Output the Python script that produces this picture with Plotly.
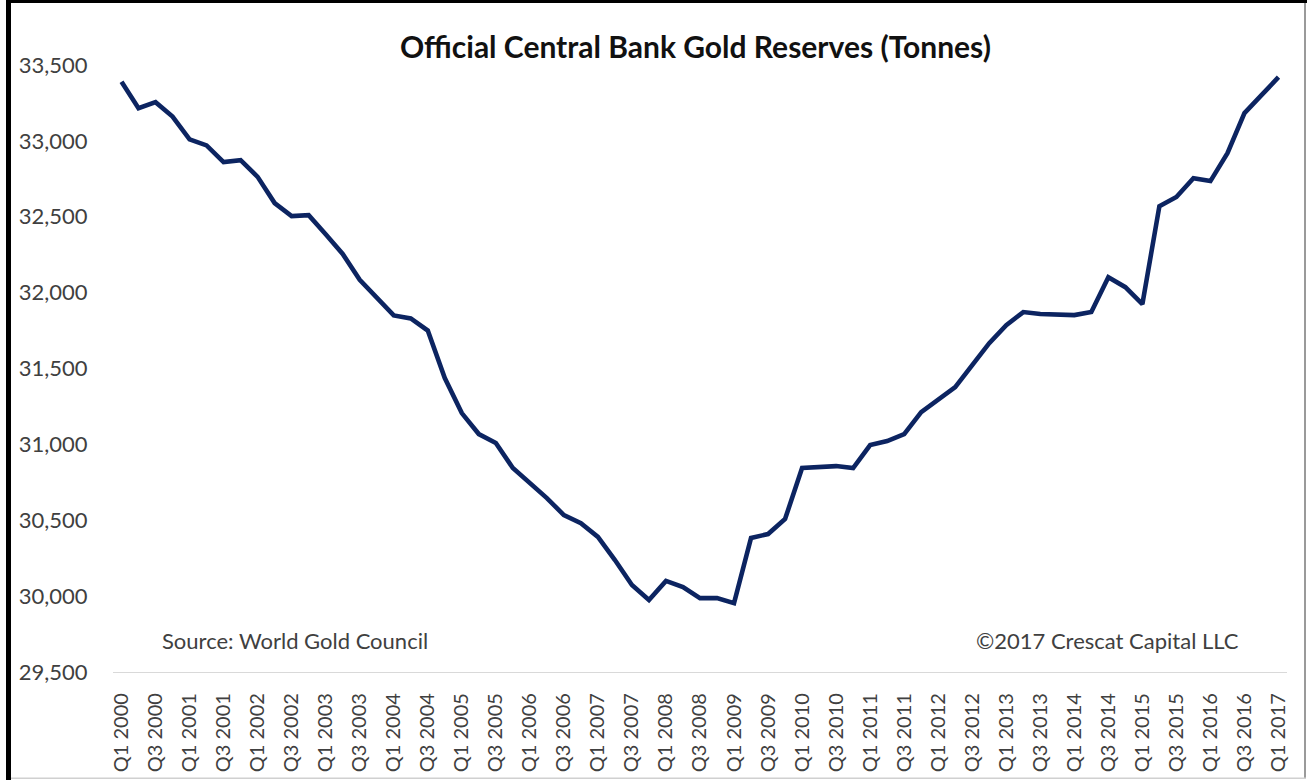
import plotly.graph_objects as go

# Quarterly official-sector gold holdings, tonnes
quarters = [f"Q{q} {y}" for y in range(2000, 2018) for q in range(1, 5)][:69]

reserves = [
    33390, 33215, 33255, 33160, 33010, 32970, 32860, 32873,
    32763, 32590, 32504, 32510, 32385, 32255, 32085, 31965,
    31850, 31830, 31750, 31437, 31206, 31068, 31009, 30844,
    30745, 30646, 30534, 30481, 30390, 30238, 30073, 29974,
    30100, 30060, 29987, 29987, 29954, 30383, 30409, 30508,
    30844, 30847, 30857, 30844, 30995, 31022, 31068, 31213,
    31298, 31377, 31522, 31667, 31786, 31872, 31859, 31852,
    31852, 31872, 32102, 32036, 31924, 32570, 32630, 32754,
    32735, 32919, 33183, 33301, 33420,
]

tick_labels = [
    "Q1 2000", "Q3 2000", "Q1 2001", "Q3 2001", "Q1 2002", "Q3 2002",
    "Q1 2003", "Q3 2003", "Q1 2004", "Q3 2004", "Q1 2005", "Q3 2005",
    "Q1 2006", "Q3 2006", "Q1 2007", "Q3 2007", "Q1 2008", "Q3 2008",
    "Q1 2009", "Q3 2009", "Q1 2010", "Q3 2010", "Q1 2011", "Q3 2011",
    "Q1 2012", "Q3 2012", "Q1 2013", "Q3 2013", "Q1 2014", "Q3 2014",
    "Q1 2015", "Q3 2015", "Q1 2016", "Q3 2016", "Q1 2017",
]

y_ticks = [29500, 30000, 30500, 31000, 31500, 32000, 32500, 33000, 33500]

FONT = "Lato, 'Open Sans', sans-serif"
TICK_COLOR = "#404040"

W, H = 1307, 780
ML, MR, MT, MB = 113, 20, 65, 108
PW, PH = W - ML - MR, H - MT - MB


def px_x(p):
    return (p - ML) / PW


def px_y(p):
    return (H - MB - p) / PH


fig = go.Figure(
    go.Scatter(
        x=quarters,
        y=reserves,
        mode="lines",
        line=dict(color="#0c2461", width=4.6),
        hoverinfo="x+y",
    )
)

fig.update_layout(
    width=W,
    height=H,
    margin=dict(l=ML, r=MR, t=MT, b=MB, autoexpand=False),
    paper_bgcolor="white",
    plot_bgcolor="white",
    showlegend=False,
    font=dict(family=FONT, color=TICK_COLOR),
    xaxis=dict(
        type="category",
        categoryorder="array",
        categoryarray=quarters,
        range=[-0.5, len(quarters) - 0.5],
        tickmode="array",
        tickvals=tick_labels,
        ticktext=tick_labels,
        tickangle=-90,
        ticks="outside",
        ticklen=12,
        tickcolor="rgba(0,0,0,0)",
        tickfont=dict(family=FONT, size=20, color=TICK_COLOR),
        showgrid=False,
        showline=True,
        linecolor="#d9d9d9",
        linewidth=1.3,
        zeroline=False,
        automargin=False,
    ),
    yaxis=dict(
        range=[29500, 33500],
        tickmode="array",
        tickvals=y_ticks,
        ticktext=[f"{v:,}" for v in y_ticks],
        ticks="outside",
        ticklen=20,
        tickcolor="rgba(0,0,0,0)",
        tickfont=dict(family=FONT, size=22, color=TICK_COLOR),
        showgrid=False,
        showline=False,
        zeroline=False,
        automargin=False,
    ),
)

annotations = [
    dict(
        text="<b>Official Central Bank Gold Reserves (Tonnes)</b>",
        x=px_x(695), y=px_y(46),
        font=dict(family=FONT, size=30, color="#111111"),
    ),
    dict(
        text="Source: World Gold Council",
        x=px_x(294.5), y=px_y(640),
        font=dict(family=FONT, size=22, color=TICK_COLOR),
    ),
    dict(
        text="©2017 Crescat Capital LLC",
        x=px_x(1107), y=px_y(640),
        font=dict(family=FONT, size=22, color=TICK_COLOR),
    ),
]
for a in annotations:
    a.update(xref="paper", yref="paper", xanchor="center", yanchor="middle",
             showarrow=False)
fig.update_layout(annotations=annotations)

# Frame around the chart image
frame = [
    dict(x0=px_x(6), x1=px_x(11), y0=px_y(780), y1=px_y(0),
         fillcolor="black", line_width=0),
    dict(x0=px_x(6), x1=px_x(1307), y0=px_y(3), y1=px_y(0),
         fillcolor="black", line_width=0),
    dict(x0=px_x(1304), x1=px_x(1306), y0=px_y(778), y1=px_y(3),
         fillcolor="#9a9a9a", line_width=0),
    dict(x0=px_x(11), x1=px_x(1306), y0=px_y(779), y1=px_y(777.5),
         fillcolor="#d0d0d0", line_width=0),
]
for s in frame:
    s.update(type="rect", xref="paper", yref="paper", layer="above")
fig.update_layout(shapes=frame)

fig.write_html("out.html")
